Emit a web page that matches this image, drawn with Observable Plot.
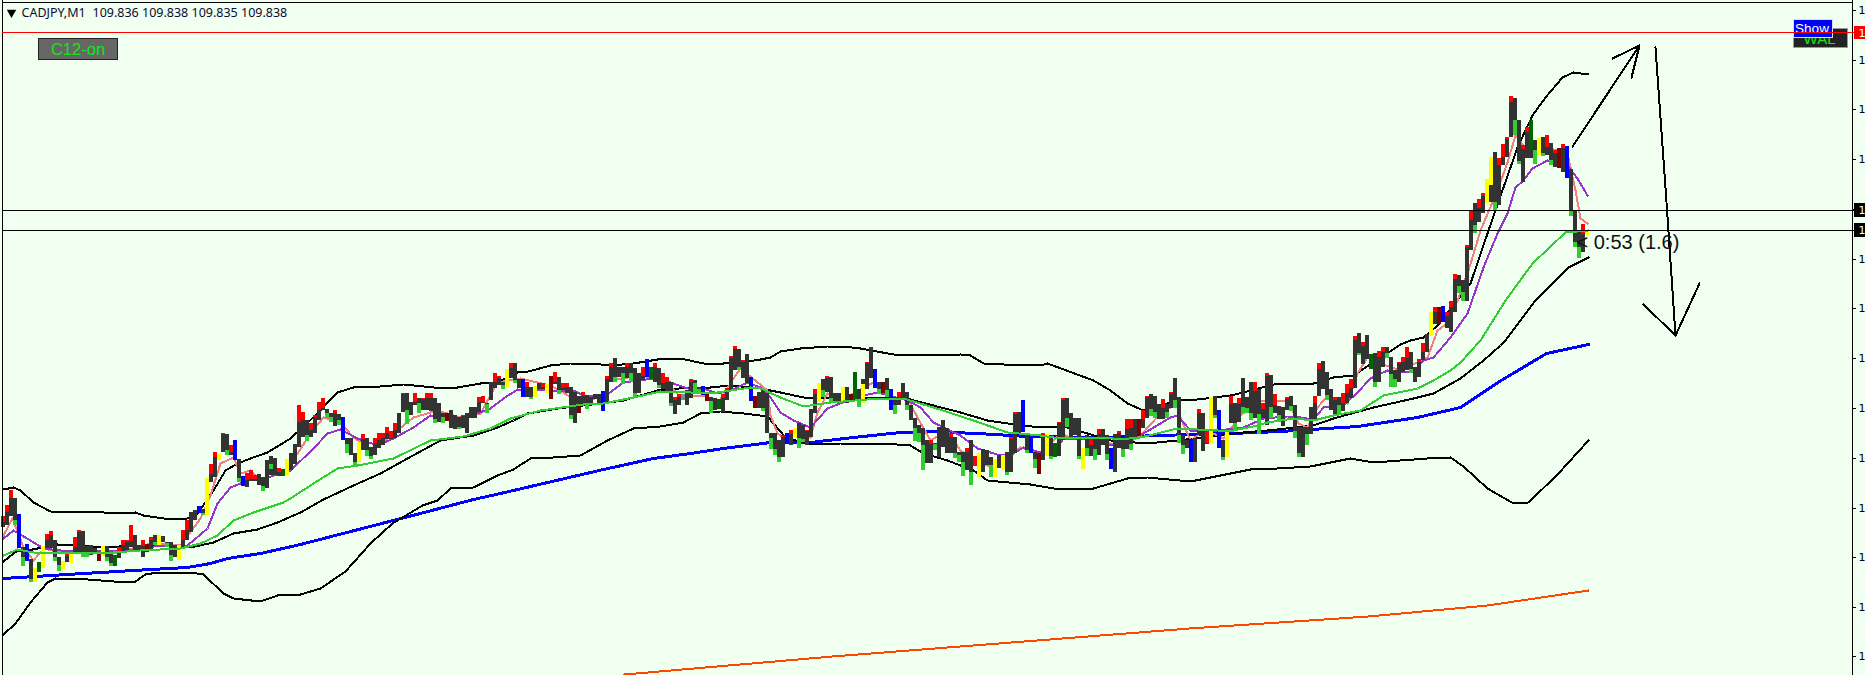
<!DOCTYPE html>
<html><head><meta charset="utf-8">
<script src="https://cdn.jsdelivr.net/npm/d3@7"></script>
<script src="https://cdn.jsdelivr.net/npm/@observablehq/plot@0.6"></script>
<style>html,body{margin:0;padding:0;background:#F0FFF0;overflow:hidden}svg{display:block}</style>
</head><body><div id="chart"></div>
<script>
// Prices are thousandths above 109 (838 = 109.838). Time is in quarter-minutes along the chart.
const barHigh = [
562,573,588,580,564,531,534,519,510,516,532,544,547,538,521,517,525,525,541,548,
547,532,533,530,526,532,532,525,523,531,538,538,553,543,533,538,534,541,543,543,
542,536,536,533,533,548,558,566,568,572,569,600,614,626,624,645,644,633,638,619,
602,605,608,603,604,601,618,622,620,610,609,619,625,634,673,666,658,655,663,676,
680,669,665,668,664,661,640,640,625,636,644,640,631,640,645,645,651,647,655,665,
685,685,676,685,680,680,685,685,680,675,665,665,668,663,661,663,665,671,671,681,
682,675,696,705,702,696,709,715,715,699,699,696,691,692,695,695,694,702,706,701,
695,695,691,686,682,686,683,681,684,684,687,702,715,720,711,711,715,715,710,705,
711,719,711,715,710,705,701,696,681,684,684,688,699,698,691,692,685,681,680,679,
684,690,722,732,729,718,724,701,682,686,688,685,645,645,638,643,645,648,650,655,
653,648,669,689,695,699,702,701,685,685,691,691,684,706,689,699,716,731,709,696,
696,700,689,681,686,695,686,673,660,653,650,638,638,635,651,658,650,645,641,626,
626,630,638,622,625,629,628,621,619,623,623,626,641,666,666,678,643,643,626,625,
645,644,643,635,656,680,680,665,660,660,630,643,641,640,649,649,643,630,644,647,
640,659,659,659,659,668,682,684,682,674,679,674,686,700,681,643,638,639,640,669,
665,649,681,682,668,638,646,682,675,680,700,681,696,696,689,675,705,703,684,672,
671,681,682,673,651,651,651,671,682,715,717,706,689,681,681,685,694,699,742,745,
736,743,724,725,727,731,731,721,708,716,721,731,726,711,719,735,744,766,771,771,
772,766,777,804,803,798,833,867,875,879,885,899,921,926,920,934,941,982,980,958,
933,951,958,938,940,941,943,935,928,930,934,932,909,868,848,854,848];
const barLow = [
551,553,562,553,530,512,517,496,496,506,510,530,530,517,507,509,516,515,526,526,
521,521,523,526,517,522,517,512,512,520,526,528,531,528,527,521,526,528,533,533,
536,531,517,521,518,531,538,546,558,565,563,563,596,601,618,626,623,623,618,596,
592,591,597,597,593,587,590,603,603,602,602,603,608,614,631,641,637,641,645,658,
668,660,656,652,653,638,625,623,612,616,628,622,619,623,630,633,639,639,640,645,
666,654,663,673,665,668,668,667,655,656,655,657,650,649,649,650,645,660,660,666,
675,665,678,690,693,689,691,700,695,690,681,681,679,681,689,689,685,679,694,684,
688,685,659,655,665,673,669,673,679,675,667,676,696,696,701,694,700,696,681,685,
698,701,699,696,690,689,686,672,664,673,678,673,680,685,685,683,677,665,668,669,
666,678,688,708,708,700,695,677,670,670,667,645,629,623,616,621,634,633,640,630,
636,633,641,665,676,681,686,676,677,676,676,675,677,677,671,675,689,700,690,684,
685,681,668,664,673,678,668,658,637,636,608,615,615,628,621,631,625,625,620,616,
602,608,593,612,601,606,613,601,601,610,608,603,606,625,645,646,625,625,610,604,
618,622,619,621,622,638,651,641,643,619,609,622,622,618,623,633,618,609,606,630,
621,629,628,640,642,650,660,662,660,659,659,660,670,670,635,624,630,616,616,643,
627,634,635,660,630,618,621,655,649,656,665,665,658,660,644,660,653,660,665,656,
652,668,667,640,621,621,633,644,658,682,689,678,668,663,663,667,675,680,690,723,
714,719,709,691,696,711,720,691,691,696,706,708,705,696,701,718,726,742,754,754,
756,750,746,766,785,777,777,828,845,856,865,875,876,868,873,913,921,941,943,914,
896,920,920,914,923,922,923,913,911,910,906,900,862,831,820,826,843];

// [bar, lower edge of the red cap] – the cap starts at the bar's high
const redCaps = [[0,556],[1,566],[2,580],[11,538],[12,543],[16,522],[18,531],[19,546],[29,526],[30,533],[31,536],[32,537],[35,532],[37,538],[45,538],[46,548],[52,604],[53,621],[55,644],[57,626],[61,598],[62,599],[63,599],[69,606],[74,656],[75,658],[77,648],[78,661],[79,668],[80,670],[83,665],[90,639],[93,634],[94,638],[95,640],[96,645],[97,640],[98,648],[100,684],[103,676],[105,679],[106,680],[107,680],[115,662],[119,676],[120,676],[123,696],[124,700],[127,710],[131,691],[135,691],[138,696],[140,690],[141,691],[145,682],[151,699],[152,711],[156,711],[160,702],[163,711],[165,695],[166,696],[168,678],[169,681],[172,696],[180,680],[181,686],[182,720],[183,729],[185,716],[195,641],[197,644],[201,647],[203,684],[206,700],[216,715],[224,681],[232,634],[237,641],[241,626],[243,612],[252,639],[253,664],[260,642],[264,655],[265,678],[272,633],[274,644],[279,645],[281,649],[282,650],[285,659],[286,681],[290,670],[292,684],[299,665],[301,635],[307,674],[309,674],[313,687],[315,669],[316,702],[318,673],[321,679],[328,675],[329,709],[333,678],[335,675],[336,685],[337,690],[338,738],[340,732],[344,721],[345,726],[349,715],[350,716],[351,720],[354,716],[355,726],[358,766],[361,762],[362,771],[363,799],[366,831],[367,858],[369,870],[370,882],[374,913],[375,921],[376,939],[377,976],[380,929],[381,946],[386,931],[388,925],[390,930],[395,844]];
// [bar, upper edge of the green cap] – the cap ends at the bar's low
const greenCaps = [[3,558],[5,521],[7,499],[13,521],[14,513],[20,526],[21,526],[26,521],[27,515],[38,536],[41,535],[42,523],[50,565],[56,628],[59,600],[65,592],[76,643],[81,665],[82,661],[84,658],[86,634],[88,616],[91,628],[92,622],[101,668],[104,675],[108,659],[110,661],[114,651],[121,674],[125,693],[128,698],[132,681],[139,688],[142,663],[146,673],[153,701],[155,705],[157,705],[158,685],[164,693],[167,675],[173,695],[174,689],[177,677],[184,711],[190,670],[192,640],[193,629],[194,621],[199,640],[200,639],[205,688],[207,680],[214,677],[219,689],[221,688],[223,673],[226,673],[228,650],[229,645],[230,633],[233,634],[238,625],[239,623],[240,616],[242,606],[247,613],[251,606],[256,628],[258,619],[262,622],[266,660],[269,622],[271,630],[273,629],[276,624],[280,629],[282,634],[287,669],[288,666],[291,666],[293,678],[294,643],[295,633],[303,663],[305,621],[308,655],[310,671],[311,670],[312,665],[314,664],[317,671],[319,663],[322,672],[323,647],[324,625],[326,644],[331,683],[334,673],[339,725],[343,696],[346,725],[347,704],[348,699],[352,709],[364,792],[365,786],[368,853],[373,876],[378,958],[379,917],[383,928],[385,925],[387,918],[392,868],[393,836],[394,831]];
// bars painted one colour from high to low
const yellowBars = [8,10,15,17,25,39,44,51,54,71,89,126,133,136,198,204,210,244,248,250,261,270,302,306,357,371,384,396];
const blueBars = [4,6,49,58,60,85,130,150,161,175,187,196,218,222,255,257,277,297,304,360,391];
const maroonBars = [24,36,111,137,176,188,212,220,259,284,359,389];
const darkGreenBars = [9,28,70,162,179,213,263,342];
const greyBars = [170];
// [bar, colour, top, bottom] – painted over only part of the bar
const partBars = [[67,"#32cd32",614,609],[144,"#800000",672,665],[215,"#ffff00",694,675],[372,"#ffff00",921,893],[382,"#006400",958,928]];

const upperBand = [[3,589],[13,591],[20,588],[33,576],[50,567],[90,567],[117,565],[135,566],[143,563],[170,559],[187,560],[197,565],[213,588],[225,608],[237,615],[250,620],[267,626],[290,640],[317,665],[327,676],[337,686],[353,691],[380,692],[403,694],[433,691],[457,691],[480,695],[497,696],[517,706],[528,707],[550,713],[570,715],[590,715],[610,713],[633,715],[663,720],[680,720],[703,715],[723,715],[747,717],[760,719],[770,721],[780,727],[800,730],[827,732],[843,732],[860,730],[893,724],[927,723],[960,724],[970,723],[983,715],[1003,714],[1040,713],[1047,715],[1093,698],[1110,688],[1127,675],[1143,668],[1177,678],[1197,679],[1230,683],[1243,686],[1277,695],[1313,695],[1333,701],[1353,703],[1400,734],[1410,738],[1423,741],[1437,753],[1470,795],[1488,848],[1503,891],[1517,931],[1532,963],[1545,981],[1562,1001],[1573,1006],[1588,1004]];
const middleBand = [[3,517],[17,528],[27,528],[57,534],[73,533],[110,531],[127,533],[150,533],[190,531],[213,536],[233,545],[257,549],[277,556],[300,566],[323,579],[353,593],[380,605],[407,620],[440,638],[473,643],[497,651],[513,658],[527,665],[557,670],[600,675],[623,678],[657,688],[690,691],[710,691],[730,693],[760,690],[780,686],[803,681],[883,681],[910,679],[933,673],[960,666],[987,658],[1007,655],[1040,651],[1063,652],[1087,645],[1110,638],[1147,635],[1177,638],[1243,646],[1267,648],[1313,653],[1333,660],[1373,671],[1413,680],[1433,685],[1460,700],[1483,718],[1500,733],[1505,738],[1535,778],[1568,811],[1588,821]];
const lowerBand = [[3,444],[15,455],[30,476],[47,496],[55,500],[87,499],[113,497],[135,497],[145,504],[157,506],[190,506],[203,504],[223,485],[233,480],[260,477],[280,484],[300,484],[320,490],[345,507],[370,535],[392,555],[422,573],[437,578],[450,590],[473,591],[497,603],[513,609],[530,620],[553,621],[580,623],[607,638],[633,650],[660,652],[683,656],[700,665],[720,667],[743,665],[767,662],[785,641],[810,634],[840,635],[883,635],[910,633],[923,625],[947,618],[960,613],[973,608],[987,598],[1030,594],[1053,590],[1093,590],[1127,600],[1147,601],[1190,597],[1250,609],[1277,610],[1310,612],[1350,620],[1373,616],[1427,620],[1450,621],[1463,612],[1487,590],[1513,575],[1528,576],[1558,605],[1588,638]];
const blueAverage = [[3,500],[50,503],[100,506],[150,509],[187,511],[210,515],[227,520],[260,525],[300,534],[416,564],[473,579],[500,585],[603,609],[653,620],[690,625],[723,630],[770,636],[810,636],[853,641],[900,646],[927,647],[977,645],[1027,642],[1107,641],[1157,643],[1230,645],[1280,647],[1357,652],[1417,661],[1460,671],[1499,697],[1546,725],[1588,734]];
const greenAverage = [[3,523],[17,529],[33,526],[83,526],[113,526],[140,528],[180,530],[200,535],[217,543],[233,558],[253,566],[283,576],[290,580],[313,595],[337,610],[357,613],[393,620],[430,638],[463,642],[490,650],[510,660],[540,668],[583,674],[603,675],[633,681],[660,687],[690,686],[717,686],[750,691],[760,690],[780,681],[803,672],[830,676],[867,679],[903,680],[933,671],[973,658],[1007,646],[1040,643],[1053,641],[1107,641],[1117,639],[1140,641],[1177,650],[1217,648],[1233,648],[1257,653],[1267,656],[1293,660],[1313,658],[1333,663],[1360,668],[1383,683],[1417,690],[1433,698],[1450,708],[1460,716],[1480,738],[1505,778],[1532,815],[1565,846],[1588,848]];
const purpleAverage = [[3,540],[13,548],[30,538],[43,530],[60,528],[93,528],[127,528],[160,533],[187,533],[207,550],[217,575],[230,591],[253,600],[267,601],[290,608],[313,630],[327,645],[340,649],[357,640],[377,633],[393,640],[413,651],[430,663],[463,660],[490,670],[503,680],[517,689],[550,688],[573,688],[583,683],[603,681],[623,696],[660,701],[670,696],[687,690],[703,690],[717,685],[730,688],[747,696],[760,691],[770,681],[780,666],[793,658],[810,651],[827,670],[847,678],[863,683],[877,686],[907,678],[920,671],[933,656],[960,643],[977,630],[1000,623],[1013,625],[1023,631],[1040,626],[1057,631],[1063,640],[1083,640],[1097,640],[1110,633],[1130,640],[1143,645],[1170,661],[1177,663],[1190,648],[1217,648],[1243,651],[1263,660],[1287,662],[1300,661],[1313,659],[1323,671],[1343,673],[1357,686],[1370,700],[1387,708],[1413,706],[1423,718],[1433,721],[1450,741],[1467,765],[1483,811],[1497,845],[1507,865],[1515,891],[1523,898],[1532,910],[1547,918],[1567,913],[1577,900],[1587,883]];
const pinkAverage = [[3,543],[12,560],[23,531],[33,518],[43,530],[60,526],[83,526],[117,526],[150,535],[180,533],[200,560],[210,583],[220,615],[233,621],[240,605],[250,608],[260,598],[287,608],[297,625],[310,645],[323,661],[340,656],[353,641],[373,628],[393,645],[413,661],[437,668],[460,661],[480,665],[497,696],[520,700],[550,693],[573,680],[580,673],[605,685],[608,698],[640,703],[668,695],[680,681],[703,683],[717,675],[735,703],[740,710],[767,688],[770,663],[777,645],[783,641],[797,648],[810,641],[817,666],[827,685],[840,678],[863,691],[873,696],[893,681],[907,680],[917,661],[930,638],[947,648],[960,628],[980,615],[993,611],[1020,631],[1040,625],[1060,645],[1070,641],[1090,640],[1110,635],[1120,631],[1140,643],[1160,665],[1177,675],[1180,661],[1190,638],[1200,645],[1213,645],[1223,640],[1240,663],[1260,678],[1287,678],[1298,655],[1307,651],[1317,671],[1327,683],[1347,675],[1357,705],[1367,721],[1380,715],[1400,708],[1427,721],[1437,748],[1447,755],[1457,778],[1468,808],[1480,848],[1497,888],[1507,916],[1515,943],[1523,933],[1533,931],[1547,931],[1567,925],[1575,888],[1580,860],[1587,855]];
const slowAverage = [[624,404],[832,422],[1011,436],[1189,450],[1368,462],[1487,473],[1588,488]];

const upArrowShaft = [[1572,932],[1639,1033]];
const upArrowHead = [[1612,1020],[1639,1033],[1631,1001]];
const downArrowShaft = [[1655,1031],[1665,891],[1675,743]];
const downArrowHead = [[1643,774],[1675,743],[1699,795]];

const priceTicks = [1068,1018,969,919,869,819,770,720,670,620,570,521,471,422];
const redLevel = 1046, blackLevels = [868,848];
const symbolText = "CADJPY,M1", ohlcText = "109.836 109.838 109.835 109.838";
const countdownText = "< 0:53 (1.6)";

const rows = barHigh.map((h,i)=>({t1:4*i+1,t2:4*i+5,h,l:barLow[i]}));
const whole = (list,fill)=>list.map(i=>({...rows[i],fill}));
const colouredBars = [
  ...redCaps.map(([i,b])=>({...rows[i],l:b,fill:"#ff0000"})),
  ...greenCaps.map(([i,t])=>({...rows[i],h:t,fill:"#32cd32"})),
  ...whole(yellowBars,"#ffff00"),...whole(blueBars,"#0000ff"),...whole(maroonBars,"#800000"),
  ...whole(darkGreenBars,"#006400"),...whole(greyBars,"#778899"),
  ...partBars.map(([i,fill,h,l])=>({...rows[i],h,l,fill}))
];
const crisp = {shapeRendering:"crispEdges"};
const path = (pts,stroke,strokeWidth)=>Plot.line(pts,{x:d=>d[0],y:d=>d[1],stroke,strokeWidth,curve:"linear",...crisp});
const box = (x1,x2,y1,y2,fill,stroke)=>Plot.rect([0],{x1:()=>x1,x2:()=>x2,y1:()=>y1,y2:()=>y2,fill,stroke,strokeWidth:1,...crisp});
const label = (t,x,y,fontSize,fill,textAnchor,fontFamily)=>Plot.text([t],{text:d=>d,x:()=>x,y:()=>y,fontSize,fill,textAnchor,fontFamily,lineAnchor:"middle"});
const sans = "Liberation Sans";

const chart = Plot.plot({
  width:1865,height:675,marginTop:0,marginBottom:0,marginLeft:0,marginRight:13,
  style:{background:"#F0FFF0",overflow:"hidden"},
  x:{domain:[0,1852],range:[0,1852],axis:null},
  y:{domain:[403,1078],range:[675,0],axis:null},
  marks:[
    path(slowAverage,"#ff4500",2),
    path(blueAverage,"#0000ff",3),
    path(upperBand,"#000",2),path(middleBand,"#000",2),path(lowerBand,"#000",2),
    path(pinkAverage,"#f08080",2),
    path(purpleAverage,"#9932cc",2),
    Plot.rect(rows,{x1:"t1",x2:"t2",y1:"h",y2:"l",fill:"#333333",...crisp}),
    Plot.rect(colouredBars,{x1:"t1",x2:"t2",y1:"h",y2:"l",fill:"fill",...crisp}),
    path(greenAverage,"#32cd32",2),
    Plot.ruleY(blackLevels,{x1:2,x2:1854,stroke:"#000",strokeWidth:1,...crisp}),
    path(upArrowShaft,"#000",2),path(upArrowHead,"#000",2),
    path(downArrowShaft,"#000",2),path(downArrowHead,"#000",2),
    label(countdownText,1576,836,20,"#111","start",sans),
    // window furniture
    Plot.ruleX([2],{stroke:"#000",strokeWidth:1,...crisp}),
    Plot.ruleX([1852],{stroke:"#000",strokeWidth:1,...crisp}),
    Plot.ruleY([1076],{x1:2,x2:1853,stroke:"#000",strokeWidth:1,...crisp}),
    Plot.axisY({anchor:"right",ticks:priceTicks,tickFormat:()=>"1",tickSize:3,tickPadding:3,fontSize:11,fontFamily:"DejaVu Sans",label:null,color:"#000"}),
    Plot.dot([0],{x:()=>11,y:()=>1066,r:3.5,symbol:"triangle",rotate:180,fill:"#000"}),
    label(symbolText,21,1066,12.5,"#0b0b33","start","Noto Sans"),
    label(ohlcText,92,1066,12.5,"#0b0b33","start","Noto Sans"),
    box(38.5,117.5,1040,1019,"#666666","#222"),
    label("C12-on",77.5,1029,16.5,"#10e810","middle",sans),
    box(1793,1847,1050,1031,"#222222","#999"),
    label("WAL",1819,1039,15,"#10e810","middle",sans),
    box(1793,1832,1059,1041,"#0000ff","#dde"),
    label("Show",1811.5,1050,13.5,"#ffffff","middle",sans),
    Plot.ruleY([redLevel],{x1:2,x2:1865,stroke:"#ff0000",strokeWidth:1,...crisp}),
    box(1854,1865,1052,1039,"#ff0000"),
    box(1854,1865,875,861,"#000000"),
    box(1854,1865,855,841,"#000000"),
    label("1",1858,1045,11,"#fff","start","DejaVu Sans"),
    label("1",1858,868,11,"#fff","start","DejaVu Sans"),
    label("1",1858,848,11,"#fff","start","DejaVu Sans")
  ]
});
document.getElementById("chart").append(chart);
</script></body></html>
